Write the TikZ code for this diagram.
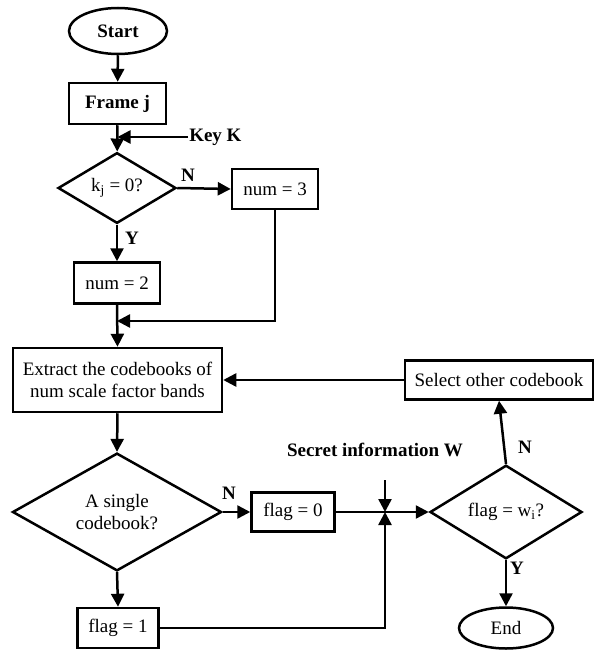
\documentclass[tikz,border=0pt]{standalone}
\usepackage{fontspec}
\setmainfont{Liberation Serif}
\usetikzlibrary{arrows.meta,shapes.geometric}
\begin{document}
\begin{tikzpicture}[x=1pt,y=-1pt,
  line width=2.5pt,
  every node/.style={font=\fontsize{19}{22}\selectfont, inner sep=0pt},
  box/.style={draw, rectangle, align=center},
  dec/.style={draw, diamond, align=center},
  term/.style={draw, ellipse},
  lbl/.style={font=\fontsize{19}{22}\selectfont\bfseries},
  arr/.style={-{Triangle[length=13pt,width=13pt]}}
]
\useasboundingbox (0,0) rectangle (595,650);
% nodes
\node[term, minimum width=98pt, minimum height=46pt, font=\fontsize{19}{22}\selectfont\bfseries] (start) at (118,31) {Start};
\node[box, minimum width=97pt, minimum height=41pt, font=\fontsize{19}{22}\selectfont\bfseries] (frame) at (117.5,103.5) {Frame j};
\node[lbl, anchor=west] (key) at (188,137) {Key K};
\node[dec, minimum width=118pt, minimum height=60pt] (d1) at (117,188) {k\textsubscript{j} = 0?};
\node[box, minimum width=86pt, minimum height=40pt] (num3) at (275,189) {num = 3};
\node[box, minimum width=86pt, minimum height=41pt] (num2) at (117,283) {num = 2};
\coordinate (merge) at (117,321);
\node[box, minimum width=209pt, minimum height=64pt] (extract) at (117.5,380) {Extract the codebooks of\\num scale factor bands};
\node[box, minimum width=188pt, minimum height=39pt] (select) at (499,380) {Select other codebook};
\node[dec, minimum width=209pt, minimum height=113pt] (d2) at (117,512) {A single\\codebook?};
\node[box, minimum width=83pt, minimum height=39pt] (flag0) at (293,512) {flag = 0};
\coordinate (junc) at (385,512);
\node[lbl] (secret) at (375,450) {Secret information W};
\coordinate (sectop) at (385,480);
\node[dec, minimum width=152pt, minimum height=62pt] (d3) at (506,512) {flag = w\textsubscript{i}?};
\node[box, minimum width=81pt, minimum height=40pt] (flag1) at (118,628) {flag = 1};
\node[term, minimum width=94pt, minimum height=41pt] (end) at (506,628) {End};
% labels
\node[lbl] (n1) at (188,175) {N};
\node[lbl] (y1) at (132,238) {Y};
\node[lbl] (n2) at (229,493) {N};
\node[lbl] (n3) at (525,447) {N};
\node[lbl] (y3) at (517,568) {Y};
% connectors
\draw[arr] (start) -- (frame);
\draw[arr] (frame) -- (d1);
\draw[arr] (key.west) -- (key.west -| frame.south);
\draw[arr] (d1.east) -- (num3.west);
\draw[arr] (d1.south) -- (num2.north);
\draw[arr] (num2.south) -- (extract.north);
\draw[arr] (num3.south) |- (merge);
\draw[arr] (select.west) -- (extract.east);
\draw[arr] (extract.south) -- (d2.north);
\draw[arr] (d2.east) -- (flag0.west);
\draw[arr] (flag0.east) -- (d3.west);
\draw[arr] (sectop) -- (junc);
\draw[arr] (flag1.east) -| (junc);
\draw[arr] (d2.south) -- (flag1.north);
\draw[arr] (d3.north) -- (select.south);
\draw[arr] (d3.south) -- (end.north);
\end{tikzpicture}
\end{document}
